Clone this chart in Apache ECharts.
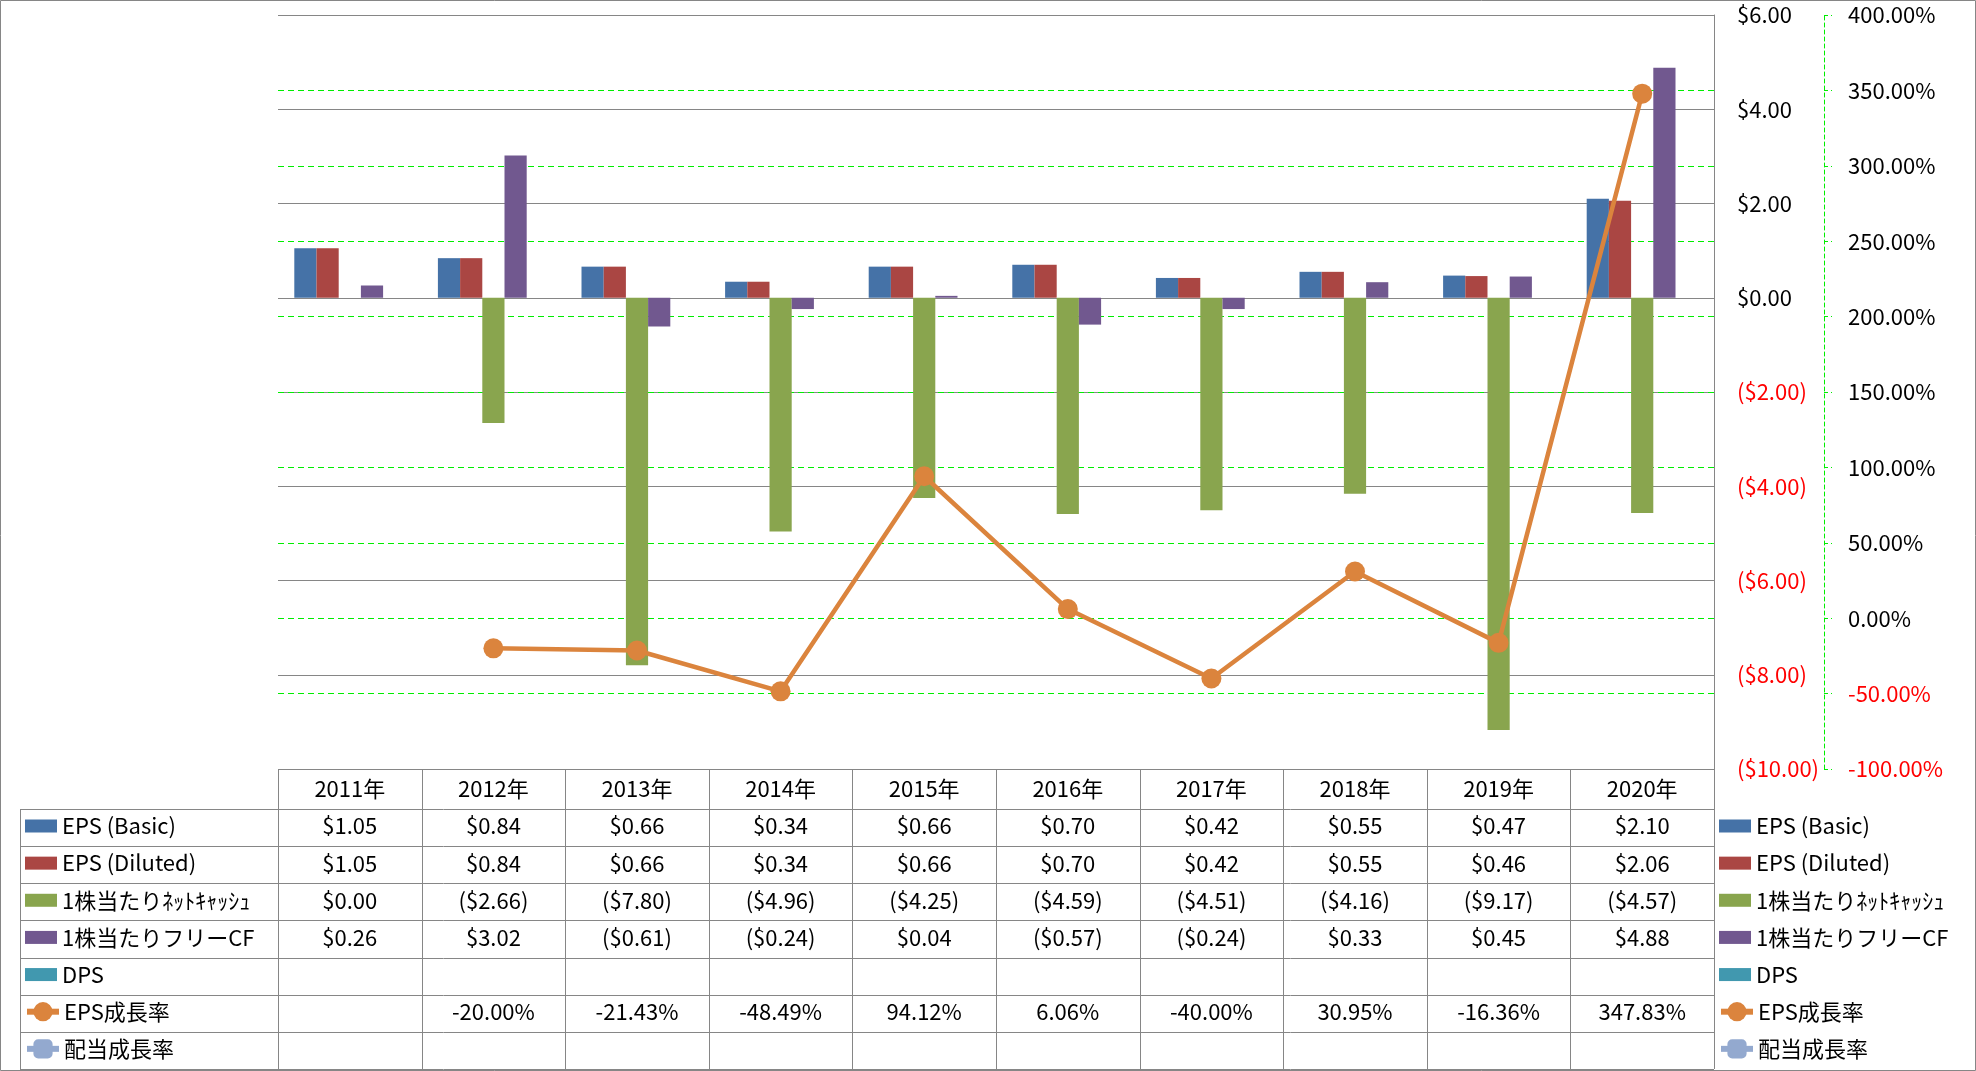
<!DOCTYPE html>
<html><head><meta charset="utf-8">
<script src="https://cdn.jsdelivr.net/npm/echarts@6/dist/echarts.min.js"></script>
<style>html,body{margin:0;padding:0;background:#fff}#c{width:1976px;height:1071px}</style>
</head><body><div id="c"></div>
<script>
// ---- data ----
const years = ['2011年','2012年','2013年','2014年','2015年','2016年','2017年','2018年','2019年','2020年'];
const epsBasic   = [1.05, 0.84, 0.66, 0.34, 0.66, 0.70, 0.42, 0.55, 0.47, 2.10];
const epsDiluted = [1.05, 0.84, 0.66, 0.34, 0.66, 0.70, 0.42, 0.55, 0.46, 2.06];
const netCash    = [0.00, -2.66, -7.80, -4.96, -4.25, -4.59, -4.51, -4.16, -9.17, -4.57];
const freeCF     = [0.26, 3.02, -0.61, -0.24, 0.04, -0.57, -0.24, 0.33, 0.45, 4.88];
const dps        = [null, null, null, null, null, null, null, null, null, null];
const epsGrowth  = [null, -20.00, -21.43, -48.49, 94.12, 6.06, -40.00, 30.95, -16.36, 347.83];
const divGrowth  = [null, null, null, null, null, null, null, null, null, null];
const seriesNames = ['EPS (Basic)','EPS (Diluted)','1株当たりﾈｯﾄｷｬｯｼｭ','1株当たりフリーCF','DPS','EPS成長率','配当成長率'];
const Y1_MIN = -10, Y1_MAX = 6, Y1_STEP = 2;
const Y2_MIN = -100, Y2_MAX = 400, Y2_STEP = 50;

// ---- style ----
const FONT = "'Noto Sans CJK JP','Noto Sans',sans-serif";
const COLORS = ['#4572A7','#AA4643','#89A54E','#71588F','#4198AF','#DB843D','#93A9CF'];
const GRAY = '#868686';
const GREEN = '#00EE00';
const FS = 22;
const ROW_PITCH = 37.14;
const LEG_TOP = 814;

const money = v => v == null ? '' : (v < 0 ? '($' + Math.abs(v).toFixed(2) + ')' : '$' + v.toFixed(2));
const pct = v => v == null ? '' : v.toFixed(2) + '%';

const chart = echarts.init(document.getElementById('c'), null, {renderer: 'canvas'});

const legendText = {fontFamily: FONT, fontSize: FS, color: '#000', lineHeight: 24};
const barLegend = left => ({
  orient: 'vertical', left: left, top: LEG_TOP, padding: 0, itemGap: ROW_PITCH - 24, itemWidth: 32, itemHeight: 13,
  selectedMode: false, textStyle: legendText,
  data: seriesNames.slice(0, 5).map(n => ({name: n, icon: 'rect'}))
});
const lineLegend = left => ({
  orient: 'vertical', left: left - 1, top: LEG_TOP + 5 * ROW_PITCH, padding: 0, itemGap: ROW_PITCH - 24, itemWidth: 32, itemHeight: 24,
  selectedMode: false, textStyle: legendText,
  lineStyle: {width: 6},
  data: seriesNames.slice(5).map(n => ({name: n}))
});

const barData = [epsBasic, epsDiluted, netCash, freeCF, dps];
const series = barData.map((d, i) => ({
  type: 'bar', name: seriesNames[i], data: d,
  itemStyle: {color: COLORS[i]}, barGap: '0%', barCategoryGap: '22.7%'
}));
series.push({
  type: 'line', name: seriesNames[5], data: epsGrowth, yAxisIndex: 1,
  symbol: 'circle', symbolSize: 20, z: 5,
  lineStyle: {width: 4.5, color: COLORS[5]}, itemStyle: {color: COLORS[5]}
});
series.push({
  type: 'line', name: seriesNames[6], data: divGrowth, yAxisIndex: 1,
  symbol: 'roundRect', symbolSize: 18, z: 5,
  lineStyle: {width: 4.5, color: COLORS[6]}, itemStyle: {color: COLORS[6]}
});

chart.setOption({
  animation: false,
  backgroundColor: '#fff',
  grid: {left: 278, right: 262, top: 15, bottom: 302},
  legend: [barLegend(25), lineLegend(25), barLegend(1719), lineLegend(1719)],
  xAxis: {
    type: 'category', data: years,
    axisLine: {show: false}, axisTick: {show: false}, axisLabel: {show: false}, splitLine: {show: false}
  },
  yAxis: [
    {
      type: 'value', position: 'right', min: Y1_MIN, max: Y1_MAX, interval: Y1_STEP,
      axisLine: {show: true, lineStyle: {color: GRAY, width: 1}},
      axisTick: {show: false},
      axisLabel: {
        margin: 23, fontFamily: FONT, fontSize: FS,
        formatter: v => money(v),
        color: v => (Number(v) < 0 ? '#FF0000' : '#000')
      },
      splitLine: {show: true, lineStyle: {color: GRAY, width: 1}}
    },
    {
      type: 'value', position: 'right', offset: 110, min: Y2_MIN, max: Y2_MAX, interval: Y2_STEP,
      axisLine: {show: true, lineStyle: {color: GREEN, width: 1, type: [4, 3]}},
      axisTick: {show: true, length: 8, lineStyle: {color: GREEN, width: 1, type: [4, 3]}},
      axisLabel: {
        margin: 24, fontFamily: FONT, fontSize: FS,
        formatter: v => pct(v),
        color: v => (Number(v) < 0 ? '#FF0000' : '#000')
      },
      splitLine: {show: true, showMinLine: false, showMaxLine: false,
        lineStyle: {color: GREEN, width: 1, type: [6, 4]}}
    }
  ],
  series: series
});

// ---- data table (positions from the chart's own scales) ----
const xc = i => chart.convertToPixel({xAxisIndex: 0}, years[i]);
const band = xc(1) - xc(0);
const xLeft = xc(0) - band / 2;
const xRight = xc(years.length - 1) + band / 2;
const yTop = chart.convertToPixel({yAxisIndex: 0}, Y1_MIN);
const headerH = 40;
const tableBottom = 1069;
const nRows = 7;
const rowH = (tableBottom - (yTop + headerH)) / nRows;
const rowLeft = 20;

const g = [];
const line = (x1, y1, x2, y2) => g.push({
  type: 'line', silent: true, z: 10,
  shape: {x1: x1, y1: y1, x2: x2, y2: y2},
  style: {stroke: GRAY, lineWidth: 1}
});
const txt = (x, y, s) => g.push({
  type: 'text', silent: true, z: 10, x: x, y: y,
  style: {text: s, fill: '#000', font: FS + 'px ' + FONT, align: 'center', verticalAlign: 'middle'}
});

line(xLeft, Math.round(yTop) + 0.5, xRight, Math.round(yTop) + 0.5);
for (let k = 0; k <= nRows; k++) {
  const y = Math.round(yTop + headerH + k * rowH) + 0.5;
  line(rowLeft, y, xRight, y);
}
for (let j = 0; j <= years.length; j++) {
  const x = Math.round(xLeft + j * band) + 0.5;
  line(x, yTop, x, tableBottom);
}
line(rowLeft + 0.5, yTop + headerH, rowLeft + 0.5, tableBottom);

years.forEach((yr, i) => txt(xc(i), yTop + headerH / 2, yr));
const rows = [
  epsBasic.map(money), epsDiluted.map(money), netCash.map(money), freeCF.map(money),
  dps.map(money), epsGrowth.map(pct), divGrowth.map(pct)
];
rows.forEach((r, k) => {
  const yc = yTop + headerH + (k + 0.5) * rowH - 1.5;
  r.forEach((s, i) => { if (s) txt(xc(i), yc, s); });
});
g.push({type: 'rect', silent: true, z: 10, shape: {x: 0.5, y: 0.5, width: 1975, height: 1070},
  style: {fill: 'none', stroke: GRAY, lineWidth: 1}});

chart.setOption({graphic: g});
</script>
</body></html>
